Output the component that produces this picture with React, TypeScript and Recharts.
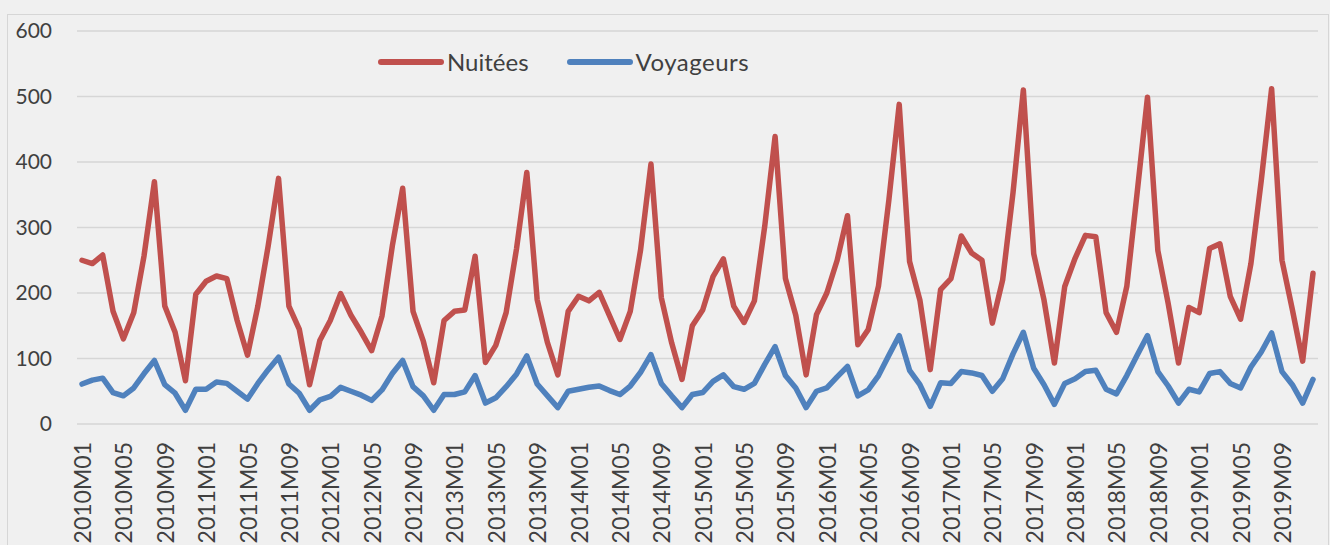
import React from 'react';
import { LineChart, Line, XAxis, YAxis, CartesianGrid, Legend } from 'recharts';

const years = ['2010', '2011', '2012', '2013', '2014', '2015', '2016', '2017', '2018', '2019'];
const months = ['01', '02', '03', '04', '05', '06', '07', '08', '09', '10', '11', '12'];
const categories = years.flatMap((y) => months.map((m) => `${y}M${m}`));

const nuitees = [
  250, 245, 258, 172, 130, 170, 257, 370, 180, 140, 66, 198,
  218, 226, 222, 158, 105, 180, 272, 375, 180, 145, 60, 128,
  158, 199, 166, 140, 112, 165, 272, 360, 172, 126, 63, 158,
  172, 174, 256, 94, 120, 170, 267, 384, 190, 124, 75, 172,
  195, 188, 201, 165, 129, 172, 266, 397, 193, 124, 68, 150,
  174, 225, 252, 180, 155, 188, 302, 439, 222, 166, 75, 167,
  200, 250, 318, 121, 144, 211, 342, 488, 248, 189, 83, 205,
  222, 287, 261, 250, 154, 220, 353, 510, 260, 189, 93, 210,
  253, 288, 286, 170, 140, 210, 353, 499, 265, 184, 93, 178,
  170, 268, 275, 195, 160, 245, 372, 512, 250, 175, 96, 230,
];

const voyageurs = [
  61, 67, 70, 48, 43, 55, 77, 97, 60, 47, 21, 53,
  53, 64, 62, 50, 38, 62, 83, 102, 61, 47, 21, 37,
  42, 56, 50, 44, 36, 52, 77, 97, 57, 43, 21, 45,
  45, 49, 74, 32, 40, 57, 76, 104, 61, 43, 25, 50,
  53, 56, 58, 51, 45, 58, 79, 106, 62, 43, 25, 45,
  48, 65, 75, 57, 53, 62, 91, 118, 74, 55, 25, 50,
  55, 72, 88, 43, 52, 74, 105, 135, 82, 60, 27, 63,
  62, 80, 78, 74, 50, 69, 107, 140, 85, 60, 30, 62,
  69, 80, 82, 53, 46, 74, 105, 135, 80, 58, 32, 53,
  49, 77, 80, 62, 55, 87, 110, 139, 80, 60, 32, 68,
];

const yTicks = [0, 100, 200, 300, 400, 500, 600];
const seriesNames = ['Nuitées', 'Voyageurs'];
const seriesColors = ['#C0504D', '#4F81BD'];

const data = categories.map((c, i) => ({
  period: c,
  nuitees: nuitees[i],
  voyageurs: voyageurs[i],
}));

const FONT = 'Lato, "Open Sans", sans-serif';
const TEXT = '#404040';

const XTick = (props: any) => {
  const { x, y, payload } = props;
  const ty = y + 18;
  return (
    <text
      x={x}
      y={ty}
      transform={`rotate(-90, ${x}, ${ty})`}
      textAnchor="end"
      dominantBaseline="central"
      fill={TEXT}
      fontSize={23}
      fontFamily={FONT}
    >
      {payload.value}
    </text>
  );
};

const renderLegend = (props: any) => {
  const payload = props.payload || [];
  return (
    <div style={{ display: 'flex', alignItems: 'center', fontFamily: FONT, fontSize: 24, color: TEXT, lineHeight: '28px' }}>
      {payload.map((entry: any, idx: number) => (
        <div key={entry.value} style={{ display: 'flex', alignItems: 'center', marginLeft: idx === 0 ? 0 : 38 }}>
          <div style={{ width: 66, height: 6, borderRadius: 3, background: entry.color, marginRight: 3 }} />
          <span style={{ letterSpacing: idx === 0 ? 0 : 0.5 }}>{entry.value}</span>
        </div>
      ))}
    </div>
  );
};

export default function App() {
  return (
    <div style={{ position: 'fixed', left: 0, top: 0, width: 1330, height: 545, background: '#F0F0F0', overflow: 'hidden' }}>
      <div
        style={{
          position: 'absolute',
          left: 7,
          top: 14,
          width: 1322,
          height: 600,
          border: '1px solid #D6D6D6',
          boxSizing: 'border-box',
        }}
      />
      <div style={{ position: 'absolute', left: 0, top: 0 }}>
        <LineChart width={1330} height={545} data={data} margin={{ top: 31, right: 12, bottom: 0, left: 0 }}>
          <CartesianGrid vertical={false} stroke="#D6D6D6" strokeWidth={1.5} />
          <XAxis
            dataKey="period"
            interval={3}
            tickLine={false}
            axisLine={false}
            height={121}
            padding={{ left: 5, right: 5 }}
            tickSize={0}
            tickMargin={0}
            tick={<XTick />}
          />
          <YAxis
            width={77}
            domain={[0, 600]}
            ticks={yTicks}
            axisLine={false}
            tickLine={false}
            tickSize={0}
            tickMargin={25}
            tick={{ fill: TEXT, fontSize: 21, fontFamily: FONT }}
          />
          <Legend
            layout="horizontal"
            verticalAlign="middle"
            align="center"
            wrapperStyle={{ position: 'absolute', top: 48, left: 378, width: 'auto', height: 'auto' }}
            content={renderLegend}
          />
          <Line
            type="linear"
            dataKey="nuitees"
            name={seriesNames[0]}
            stroke={seriesColors[0]}
            strokeWidth={5.5}
            strokeLinejoin="round"
            strokeLinecap="round"
            dot={false}
            isAnimationActive={false}
          />
          <Line
            type="linear"
            dataKey="voyageurs"
            name={seriesNames[1]}
            stroke={seriesColors[1]}
            strokeWidth={5.5}
            strokeLinejoin="round"
            strokeLinecap="round"
            dot={false}
            isAnimationActive={false}
          />
        </LineChart>
      </div>
    </div>
  );
}
